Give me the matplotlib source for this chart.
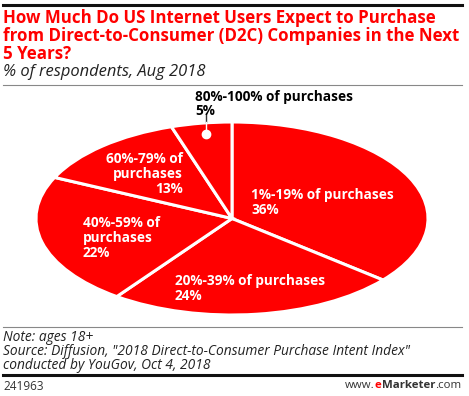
import matplotlib
matplotlib.use("Agg")
import matplotlib.pyplot as plt
from matplotlib.lines import Line2D

W, H = 469, 396
categories = ["1%-19% of purchases", "20%-39% of purchases", "40%-59% of purchases",
              "60%-79% of purchases", "80%-100% of purchases"]
values = [36, 24, 22, 13, 5]
label_texts = ["1%-19% of purchases\n36%", "20%-39% of purchases\n24%",
               "40%-59% of\npurchases\n22%", "60%-79% of\npurchases\n13%",
               "80%-100% of purchases\n5%"]

RED = "#FF0000"
FONT = "Open Sans"

fig = plt.figure(figsize=(W / 100, H / 100), dpi=100)

def fx(px):
    return px / W

def fy(py):
    return 1 - py / H

def hline(y, x0, x1, color, lw):
    fig.add_artist(Line2D([fx(x0), fx(x1)], [fy(y), fy(y)], color=color, lw=lw,
                          transform=fig.transFigure))

# Pie axes (elliptical pie)
cx, cy, rx, ry = 232, 218.5, 196, 96.5
ax = fig.add_axes([fx(cx - rx), fy(cy + ry), (2 * rx) / W, (2 * ry) / H])
wedges, _ = ax.pie(values, startangle=90, counterclock=False, colors=[RED] * len(values),
                   wedgeprops=dict(edgecolor="white", linewidth=2.2))
ax.set_xlim(-1, 1)
ax.set_ylim(-1, 1)
ax.set_aspect("auto")
ax.axis("off")

# Slice labels (pixel layout positions)
label_pos = [(251, 202.5, "left", "white"), (175, 288.5, "left", "white"),
             (83, 238, "left", "white"), (183, 174, "right", "white"),
             (195, 104, "left", "black")]
for txt, (px, py, ha, col) in zip(label_texts, label_pos):
    fig.text(fx(px), fy(py), txt, ha=ha, va="center", color=col, fontsize=9.8,
             fontweight="bold", family=FONT, linespacing=1.05, multialignment=ha)

# Leader line for small slice
fig.add_artist(Line2D([fx(205.7), fx(205.7)], [fy(113), fy(122)], color="#333333", lw=1,
                      transform=fig.transFigure))
fig.add_artist(Line2D([fx(205.7), fx(205.7)], [fy(122), fy(133)], color="white", lw=1,
                      transform=fig.transFigure))
fig.add_artist(Line2D([fx(205.7)], [fy(134)], marker="o", color="white", markersize=6,
                      transform=fig.transFigure))

# Lines
hline(5, 3, 462, "#111111", 2.2)
hline(85, 3, 462, "#888888", 0.8)
hline(327, 3, 462, "#888888", 0.8)
hline(375, 3, 462, "#111111", 2.2)

# Title
fig.text(fx(3), fy(9), "How Much Do US Internet Users Expect to Purchase\n"
         "from Direct-to-Consumer (D2C) Companies in the Next\n5 Years?",
         ha="left", va="top", color=RED, fontsize=12.2, fontweight="bold", family=FONT,
         linespacing=1.0)
fig.text(fx(3), fy(72), "% of respondents, Aug 2018", ha="left", va="center",
         color="#222222", fontsize=11.9, style="italic", family=FONT)

# Notes
fig.text(fx(3), fy(351.5), "Note: ages 18+\nSource: Diffusion, \"2018 Direct-to-Consumer Purchase Intent Index\"\n"
         "conducted by YouGov, Oct 4, 2018", ha="left", va="center", color="#222222",
         fontsize=9.9, style="italic", family=FONT, linespacing=0.94)

# Footer
fig.text(fx(3), fy(386), "241963", ha="left", va="center", color="#333333", fontsize=8.5,
         family=FONT)
fig.canvas.draw()
r = fig.canvas.get_renderer()
x_right = 461
for s, kw in [(".com", dict(color="#333333")),
              ("Marketer", dict(color="#333333", fontweight="bold")),
              ("e", dict(color=RED, fontweight="bold")),
              ("www.", dict(color="#333333"))]:
    t = fig.text(fx(x_right), fy(386), s, ha="right", va="center", fontsize=8.2,
                 family=FONT, **kw)
    bb = t.get_window_extent(r)
    x_right -= bb.width

fig.savefig("out.png", dpi=100)
